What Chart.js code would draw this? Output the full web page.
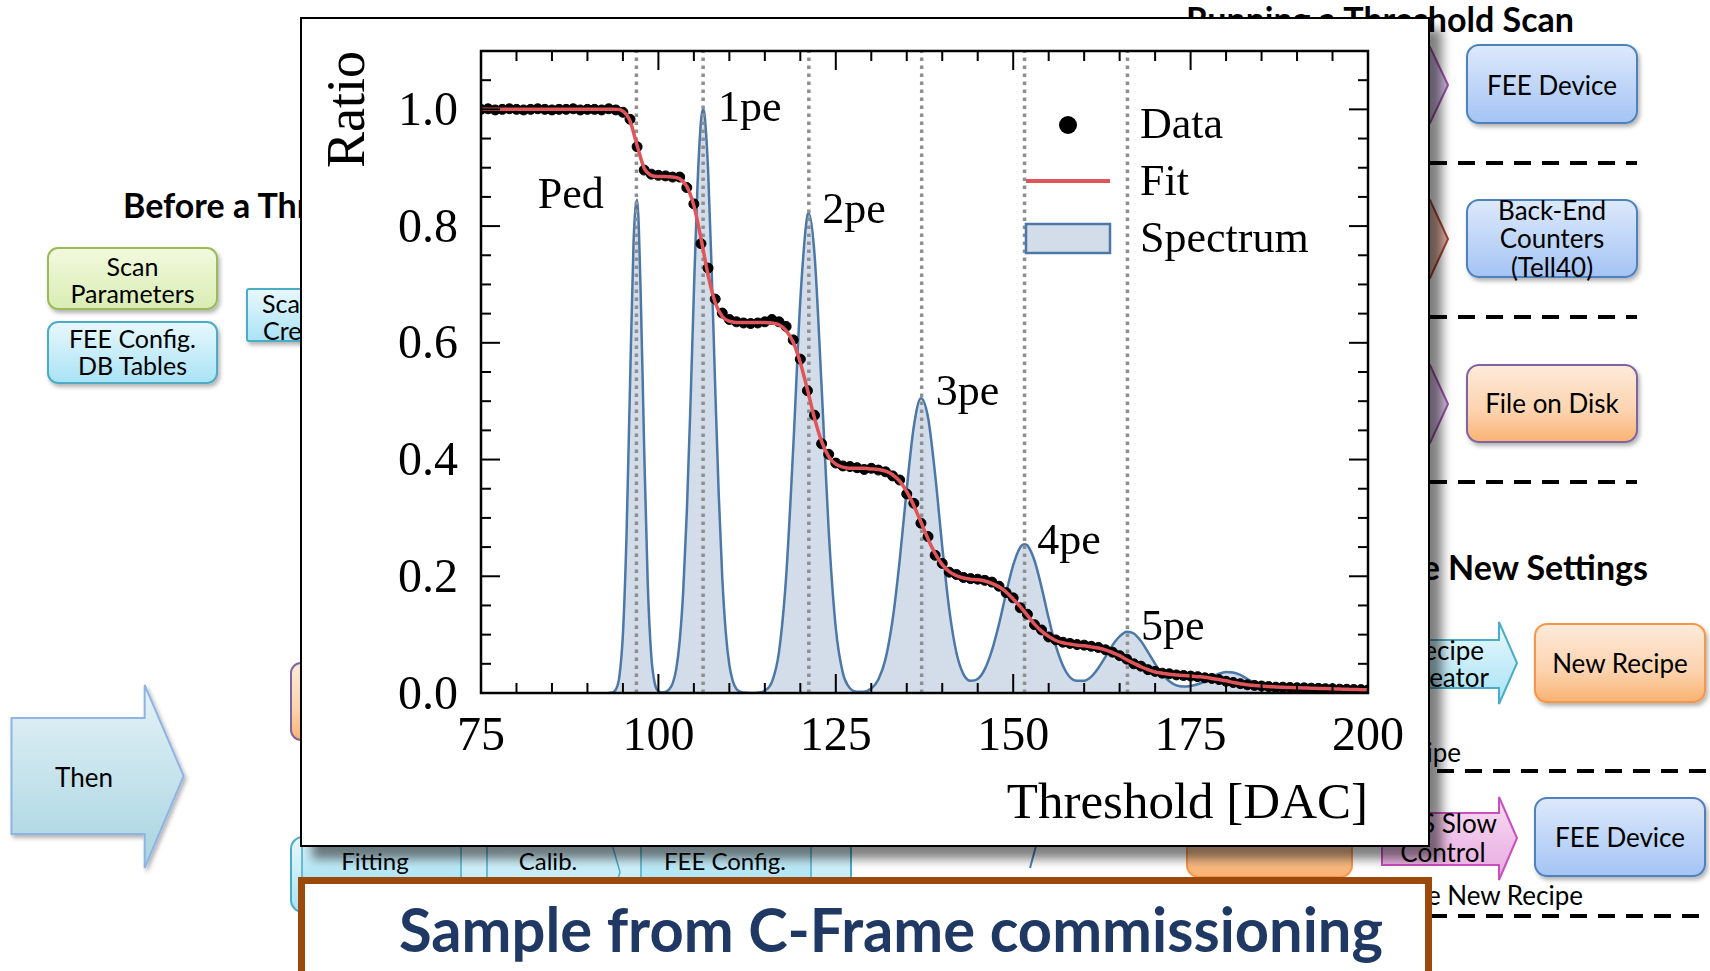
<!DOCTYPE html>
<html>
<head>
<meta charset="utf-8">
<script src="https://cdn.jsdelivr.net/npm/chart.js@4.4.0/dist/chart.umd.min.js"></script>
<style>
  html,body{margin:0;padding:0;background:#fff;}
  body{width:1710px;height:971px;position:relative;overflow:hidden;}
  #bg{position:absolute;left:0;top:0;}
  #chartBox{position:absolute;left:300px;top:17px;width:1126px;height:826px;border:2px solid #000;background:#fff;
    box-shadow:12px 12px 10px rgba(0,0,0,0.5);}
  #chartBox canvas{position:absolute;left:0;top:0;}
</style>
</head>
<body>
<svg id="bg" width="1710" height="971" xmlns="http://www.w3.org/2000/svg">
  <defs>
    <linearGradient id="gBlue" x1="0" y1="0" x2="0" y2="1"><stop offset="0" stop-color="#dde9fc"/><stop offset="1" stop-color="#a4c4f4"/></linearGradient>
    <linearGradient id="gOrange" x1="0" y1="0" x2="0" y2="1"><stop offset="0" stop-color="#fdeadb"/><stop offset="0.6" stop-color="#fcd3ae"/><stop offset="1" stop-color="#f9b272"/></linearGradient>
    <linearGradient id="gGreen" x1="0" y1="0" x2="0" y2="1"><stop offset="0" stop-color="#f2f9de"/><stop offset="1" stop-color="#d9edb3"/></linearGradient>
    <linearGradient id="gCyan" x1="0" y1="0" x2="0" y2="1"><stop offset="0" stop-color="#e8f8fd"/><stop offset="1" stop-color="#a9e3f5"/></linearGradient>
    <linearGradient id="gThen" x1="0" y1="0" x2="0" y2="1"><stop offset="0" stop-color="#e6f2f7"/><stop offset="1" stop-color="#a6d4e1"/></linearGradient>
    <linearGradient id="gPink" x1="0" y1="0" x2="0" y2="1"><stop offset="0" stop-color="#f8dcf4"/><stop offset="1" stop-color="#e8a9df"/></linearGradient>
    <filter id="sh" x="-10%" y="-10%" width="130%" height="150%"><feDropShadow dx="2" dy="3" stdDeviation="2" flood-color="#000" flood-opacity="0.3"/></filter>
  </defs>
  <g font-family="Lato, 'Open Sans', sans-serif">
    <!-- left column -->
    <text x="123" y="218" font-size="34" font-weight="700" fill="#000">Before a Threshold Scan</text>
    <rect x="48" y="248" width="169" height="61" rx="10" fill="url(#gGreen)" stroke="#9bbb59" stroke-width="2" filter="url(#sh)"/>
    <text x="132.5" y="276" font-size="25" text-anchor="middle" fill="#000">Scan</text>
    <text x="132.5" y="303" font-size="25" text-anchor="middle" fill="#000">Parameters</text>
    <rect x="48" y="322" width="169" height="61" rx="10" fill="url(#gCyan)" stroke="#4bacc6" stroke-width="2" filter="url(#sh)"/>
    <text x="132.5" y="348" font-size="25" text-anchor="middle" fill="#000">FEE Config.</text>
    <text x="132.5" y="375" font-size="25" text-anchor="middle" fill="#000">DB Tables</text>
    <rect x="247" y="289" width="150" height="52" rx="2" fill="url(#gCyan)" stroke="#4bacc6" stroke-width="2" filter="url(#sh)"/>
    <text x="262" y="313" font-size="25" fill="#000">Scan</text>
    <text x="263" y="340" font-size="25" fill="#000">Creator</text>
    <polygon points="11.5,718 144.7,718 144.7,685 183.7,776 144.7,868 144.7,834 11.5,834" fill="url(#gThen)" stroke="#8eb4e3" stroke-width="2" filter="url(#sh)"/>
    <text x="84" y="787" font-size="26" text-anchor="middle" fill="#000">Then</text>
    <rect x="291" y="663" width="120" height="77" rx="10" fill="url(#gOrange)" stroke="#8064a2" stroke-width="2"/>
    <!-- bottom container -->
    <rect x="291" y="837" width="560" height="75" rx="12" fill="url(#gCyan)" stroke="#4bacc6" stroke-width="2"/>
    <rect x="302" y="825" width="159" height="60" fill="url(#gCyan)" stroke="#4bacc6" stroke-width="1.5"/>
    <polygon points="487,820 605,820 620,872 605,924 487,924" fill="url(#gCyan)" stroke="#4bacc6" stroke-width="1.5"/>
    <rect x="641" y="825" width="170" height="60" fill="url(#gCyan)" stroke="#4bacc6" stroke-width="1.5"/>
    <text x="375" y="870" font-size="24" text-anchor="middle" fill="#000">Fitting</text>
    <text x="548" y="870" font-size="24" text-anchor="middle" fill="#000">Calib.</text>
    <text x="725" y="870" font-size="24" text-anchor="middle" fill="#000">FEE Config.</text>
    <path d="M1036,846 L1030,868" stroke="#4f81bd" stroke-width="2" fill="none"/>
    <rect x="1187" y="760" width="165" height="117" rx="12" fill="url(#gOrange)" stroke="#f79646" stroke-width="2"/>

    <!-- right column -->
    <text x="1574" y="32" font-size="34" font-weight="700" text-anchor="end" fill="#000">Running a Threshold Scan</text>
    <polygon points="1380,47 1430,47 1448,85 1430,123 1380,123" fill="#cbb9da" stroke="#9c52a8" stroke-width="2"/>
    <polygon points="1380,200 1430,200 1448,239 1430,278 1380,278" fill="#dcaea3" stroke="#a3462f" stroke-width="2"/>
    <polygon points="1380,365 1430,365 1448,404 1430,443 1380,443" fill="#d4bde0" stroke="#9c52a8" stroke-width="2"/>
    <rect x="1467" y="45" width="170" height="78" rx="12" fill="url(#gBlue)" stroke="#4f81bd" stroke-width="2" filter="url(#sh)"/>
    <text x="1552" y="95" font-size="26" text-anchor="middle" fill="#000">FEE Device</text>
    <line x1="1430" y1="163" x2="1637" y2="163" stroke="#000" stroke-width="4" stroke-dasharray="17 11"/>
    <rect x="1467" y="200" width="170" height="77" rx="12" fill="url(#gBlue)" stroke="#4f81bd" stroke-width="2" filter="url(#sh)"/>
    <text x="1552" y="220" font-size="26" text-anchor="middle" fill="#000">Back-End</text>
    <text x="1552" y="248" font-size="26" text-anchor="middle" fill="#000">Counters</text>
    <text x="1552" y="277" font-size="26" text-anchor="middle" fill="#000">(Tell40)</text>
    <line x1="1430" y1="317" x2="1637" y2="317" stroke="#000" stroke-width="4" stroke-dasharray="17 11"/>
    <rect x="1467" y="365" width="170" height="77" rx="12" fill="url(#gOrange)" stroke="#8064a2" stroke-width="2" filter="url(#sh)"/>
    <text x="1552" y="413" font-size="26" text-anchor="middle" fill="#000">File on Disk</text>
    <line x1="1430" y1="482" x2="1637" y2="482" stroke="#000" stroke-width="4" stroke-dasharray="17 11"/>

    <text x="1648" y="580" font-size="34" font-weight="700" text-anchor="end" fill="#000">Applying the New Settings</text>
    <polygon points="1300,640 1499,640 1499,622 1517,663 1499,704 1499,688 1300,688" fill="url(#gCyan)" stroke="#4bacc6" stroke-width="2"/>
    <text x="1446" y="660" font-size="26" text-anchor="middle" fill="#000">Recipe</text>
    <text x="1446" y="687" font-size="26" text-anchor="middle" fill="#000">Creator</text>
    <rect x="1535" y="624" width="170" height="78" rx="12" fill="url(#gOrange)" stroke="#f79646" stroke-width="2" filter="url(#sh)"/>
    <text x="1620" y="673" font-size="26" text-anchor="middle" fill="#000">New Recipe</text>
    <text x="1461" y="762" font-size="26" text-anchor="end" fill="#000">Recipe</text>
    <line x1="1437" y1="771" x2="1710" y2="771" stroke="#000" stroke-width="4" stroke-dasharray="17 11"/>
    <polygon points="1382,813 1499,813 1499,797 1517,838 1499,880 1499,865 1382,865" fill="url(#gPink)" stroke="#c94fbe" stroke-width="2"/>
    <text x="1443" y="833" font-size="26" text-anchor="middle" fill="#000">ECS Slow</text>
    <text x="1443" y="862" font-size="26" text-anchor="middle" fill="#000">Control</text>
    <rect x="1535" y="798" width="170" height="78" rx="12" fill="url(#gBlue)" stroke="#4f81bd" stroke-width="2" filter="url(#sh)"/>
    <text x="1620" y="847" font-size="26" text-anchor="middle" fill="#000">FEE Device</text>
    <text x="1583" y="905" font-size="26" text-anchor="end" fill="#000">Loading the New Recipe</text>
    <line x1="1430" y1="916" x2="1710" y2="916" stroke="#000" stroke-width="4" stroke-dasharray="17 11"/>

    <!-- caption box -->
    <rect x="301.5" y="880.5" width="1127" height="100" fill="#fff" stroke="#9c4a0c" stroke-width="7"/>
    <text x="891" y="952" font-size="62" font-weight="700" text-anchor="middle" fill="#1f3864" textLength="984" lengthAdjust="spacingAndGlyphs">Sample from C-Frame commissioning</text>
  </g>
</svg>

<div id="chartBox"><canvas id="c" width="1126" height="826"></canvas></div>

<script>
// ---------------- data ----------------
const thresholdDAC = [75,76,77,78,79,80,81,82,83,84,85,86,87,88,89,90,91,92,93,94,95,96,97,98,99,100,
  101,102,103,104,105,106,107,108,109,110,111,112,113,114,115,116,117,118,119,120,121,122,123,124,125,
  126,127,128,129,130,131,132,133,134,135,136,137,138,139,140,141,142,143,144,145,146,147,148,149,150,
  151,152,153,154,155,156,157,158,159,160,161,162,163,164,165,166,167,168,169,170,171,172,173,174,175,
  176,177,178,179,180,181,182,183,184,185,186,187,188,189,190,191,192,193,194,195,196,197,198,199,200];

const dataRatio = [1.000,1.001,0.999,1.000,1.001,1.000,0.999,1.000,1.001,1.000,0.999,1.000,1.000,1.001,0.999,1.000,1.000,0.999,1.001,
  0.999,0.995,0.983,0.936,0.896,0.889,0.887,0.886,0.884,0.884,0.866,0.838,0.770,0.728,0.675,0.651,0.640,0.636,0.634,0.633,0.634,
  0.636,0.640,0.636,0.628,0.605,0.572,0.518,0.476,0.427,0.409,0.394,0.389,0.388,0.386,0.383,0.385,0.382,0.379,0.372,0.365,
  0.341,0.325,0.291,0.268,0.236,0.222,0.207,0.203,0.198,0.196,0.195,0.193,0.190,0.183,0.172,0.163,0.146,0.135,0.117,0.108,
  0.096,0.091,0.087,0.085,0.083,0.082,0.080,0.078,0.074,0.070,0.064,0.058,0.050,0.046,0.040,0.037,0.034,0.033,0.031,0.030,
  0.029,0.028,0.026,0.025,0.023,0.020,0.018,0.016,0.014,0.013,0.012,0.011,0.010,0.010,0.0095,0.0090,0.0088,0.0083,0.0080,0.0074,
  0.0072,0.0066,0.0064,0.0060,0.0058,0.0053];

const fitRatio = [1.000,1.000,1.000,1.000,1.000,1.000,1.000,1.000,1.000,1.000,1.000,1.000,1.000,1.000,1.000,1.000,1.000,1.000,1.000,1.000,
  0.997,0.980,0.938,0.899,0.887,0.885,0.885,0.884,0.881,0.868,0.835,0.779,0.716,0.669,0.645,0.637,0.635,0.635,0.635,0.635,
  0.635,0.634,0.631,0.621,0.601,0.566,0.520,0.471,0.431,0.405,0.392,0.387,0.385,0.385,0.385,0.384,0.383,0.380,0.374,0.363,
  0.345,0.321,0.293,0.264,0.239,0.220,0.208,0.201,0.197,0.195,0.194,0.192,0.188,0.182,0.173,0.161,0.148,0.133,0.118,0.106,
  0.097,0.090,0.086,0.084,0.082,0.081,0.079,0.077,0.074,0.069,0.064,0.057,0.051,0.045,0.040,0.036,0.034,0.032,0.031,0.030,
  0.029,0.028,0.027,0.025,0.023,0.021,0.018,0.016,0.014,0.013,0.012,0.011,0.0104,0.0099,0.0095,0.0091,0.0087,0.0083,0.0079,0.0075,
  0.0071,0.0067,0.0063,0.0060,0.0057,0.0054];

const spectrumDAC = [93,93.5,94,94.5,95,95.5,96,96.5,97,97.5,98,98.5,99,99.5,100,100.5,101,101.5,102,102.5,
  103,103.5,104,104.5,105,105.5,106,106.3,106.5,107,107.5,108,108.5,109,109.5,110,110.5,111,111.5,112,
  113,114,115,116,117,118,119,120,121,121.2,122,123,124,125,126,127,128,129,130,131,132,133,134,135,136,137,
  138,139,140,141,142,143,144,145,146,147,148,149,150,151,151.6,152,153,154,155,156,157,158,159,160,
  161,162,163,164,165,166,167,168,169,170,171,172,173,174,175,176,177,178,179,180,181,182,183,184,185,
  186,187,188,189,190];

const spectrumValue = [0.0001,0.001,0.006,0.028,0.101,0.267,0.527,0.773,0.845,0.687,0.416,0.187,0.063,0.016,0.003,0.001,0.002,0.006,0.016,0.040,
  0.089,0.175,0.309,0.487,0.687,0.867,0.980,1.000,0.991,0.897,0.726,0.526,0.341,0.198,0.103,0.048,0.020,0.007,0.0025,0.0007,
  0.0001,0.0006,0.004,0.019,0.071,0.199,0.420,0.673,0.818,0.822,0.752,0.525,0.278,0.111,0.034,0.008,0.002,0.0023,0.0076,0.023,0.058,0.125,0.227,0.350,0.457,0.505,
  0.472,0.374,0.251,0.142,0.069,0.032,0.021,0.024,0.041,0.073,0.118,0.171,0.219,0.250,0.255,0.253,0.227,0.181,0.128,0.081,0.047,0.027,0.021,0.021,
  0.028,0.043,0.062,0.082,0.097,0.105,0.102,0.089,0.070,0.050,0.032,0.020,0.013,0.011,0.012,0.015,0.020,0.027,0.033,0.036,0.035,0.031,0.024,0.017,0.011,
  0.006,0.003,0.0013,0.0005,0.0002];

const peakDAC = [96.9, 106.3, 121.2, 137.1, 151.6, 166.1];
const peakLabels = ['Ped','1pe','2pe','3pe','4pe','5pe'];
const peakLabelDAC = [83.0, 108.4, 123.1, 139.1, 153.4, 168.0];
const peakLabelRatio = [0.831, 0.980, 0.806, 0.493, 0.239, 0.091];

const legendLabels = ['Data','Fit','Spectrum'];
const xMajorTicks = [75,100,125,150,175,200];
const xMinorTicks = [80,85,90,95,105,110,115,120,130,135,140,145,155,160,165,170,180,185,190,195];
const yMajorTicks = [0,0.2,0.4,0.6,0.8,1.0];
const yMinorTicks = [0.05,0.1,0.15,0.25,0.3,0.35,0.45,0.5,0.55,0.65,0.7,0.75,0.85,0.9,0.95,1.05];
const xRange = [75, 200];
const yRange = [0, 1.1];

// ---------------- styles ----------------
const SERIF = "'Liberation Serif', 'Times New Roman', serif";
const RED = '#e0555a';
const BLUE = '#4c78a8';
const BLUE_FILL = 'rgba(76,120,168,0.25)';
const GREY = '#8f8f8f';

const frame = {
  id: 'frame',
  afterDatasetsDraw(chart) {
    const {ctx, chartArea: a, scales: {x, y}} = chart;
    ctx.save();
    ctx.strokeStyle = '#000'; ctx.lineCap = 'butt';
    const seg = (x1, y1, x2, y2) => { ctx.beginPath(); ctx.moveTo(x1, y1); ctx.lineTo(x2, y2); ctx.stroke(); };
    const MAJ = 19, MIN = 10;
    ctx.lineWidth = 2;
    xMajorTicks.forEach(v => { const p = x.getPixelForValue(v); seg(p, a.bottom, p, a.bottom - MAJ); seg(p, a.top, p, a.top + MAJ); });
    xMinorTicks.forEach(v => { const p = x.getPixelForValue(v); seg(p, a.bottom, p, a.bottom - MIN); seg(p, a.top, p, a.top + MIN); });
    yMajorTicks.forEach(v => { const p = y.getPixelForValue(v); seg(a.left, p, a.left + MAJ, p); seg(a.right, p, a.right - MAJ, p); });
    yMinorTicks.forEach(v => { const p = y.getPixelForValue(v); seg(a.left, p, a.left + MIN, p); seg(a.right, p, a.right - MIN, p); });
    ctx.lineWidth = 2.5;
    ctx.strokeRect(a.left, a.top, a.right - a.left, a.bottom - a.top);

    // peak annotations
    ctx.fillStyle = '#000';
    ctx.font = `44px ${SERIF}`;
    ctx.textAlign = 'left'; ctx.textBaseline = 'alphabetic';
    peakLabels.forEach((t, i) => ctx.fillText(t, x.getPixelForValue(peakLabelDAC[i]), y.getPixelForValue(peakLabelRatio[i])));

    // legend
    const hx = a.right - 342, hw = 84, tx = a.right - 228;
    ctx.beginPath(); ctx.arc(hx + hw / 2, a.top + 74, 9, 0, Math.PI * 2); ctx.fillStyle = '#000'; ctx.fill();
    ctx.strokeStyle = RED; ctx.lineWidth = 4; seg(hx, a.top + 130, hx + hw, a.top + 130);
    ctx.fillStyle = BLUE_FILL; ctx.fillRect(hx, a.top + 173, hw, 29);
    ctx.strokeStyle = BLUE; ctx.lineWidth = 2.5; ctx.strokeRect(hx, a.top + 173, hw, 29);
    ctx.fillStyle = '#000';
    ctx.fillText(legendLabels[0], tx, a.top + 87);
    ctx.fillText(legendLabels[1], tx, a.top + 144);
    ctx.fillText(legendLabels[2], tx, a.top + 201);
    ctx.restore();
  }
};

const datasets = [
  { label: 'Fit', data: thresholdDAC.map((v, i) => ({x: v, y: fitRatio[i]})), borderColor: RED, borderWidth: 3.5,
    pointRadius: 0, cubicInterpolationMode: 'monotone', fill: false, order: 1 },
  { label: 'Data', data: thresholdDAC.map((v, i) => ({x: v, y: dataRatio[i]})), showLine: false,
    pointRadius: 5, pointBackgroundColor: '#000', pointBorderColor: '#000', pointBorderWidth: 1, order: 2 },
  ...peakDAC.map(p => ({ label: 'peak', data: [{x: p, y: yRange[0]}, {x: p, y: yRange[1]}], borderColor: GREY,
    borderWidth: 3.5, borderDash: [3.5, 4.5], pointRadius: 0, fill: false, order: 3 })),
  { label: 'Spectrum', data: spectrumDAC.map((v, i) => ({x: v, y: spectrumValue[i]})), borderColor: BLUE, borderWidth: 2.5,
    backgroundColor: BLUE_FILL, fill: 'origin', pointRadius: 0, cubicInterpolationMode: 'monotone', order: 4 }
];

new Chart(document.getElementById('c').getContext('2d'), {
  type: 'line',
  data: { datasets },
  options: {
    responsive: false, animation: false,
    layout: { padding: { left: 0, top: 32, right: 60, bottom: 0 } },
    plugins: { legend: { display: false }, tooltip: { enabled: false } },
    scales: {
      x: {
        type: 'linear', min: xRange[0], max: xRange[1],
        afterBuildTicks: s => { s.ticks = xMajorTicks.map(v => ({value: v})); },
        afterFit: s => { s.height = 152; s.paddingLeft = 0; s.paddingRight = 0; },
        grid: { display: false, drawTicks: false }, border: { display: false },
        ticks: { padding: 16, color: '#000', font: { family: SERIF, size: 48 }, maxRotation: 0, autoSkip: false,
                 callback: v => String(v) },
        title: { display: true, text: 'Threshold [DAC]', align: 'end', color: '#000',
                 font: { family: SERIF, size: 51 }, padding: { top: 0, bottom: 10 } }
      },
      y: {
        type: 'linear', min: yRange[0], max: yRange[1],
        afterBuildTicks: s => { s.ticks = yMajorTicks.map(v => ({value: v})); },
        afterFit: s => { s.width = 179; s.paddingTop = 0; s.paddingBottom = 0; },
        grid: { display: false, drawTicks: false }, border: { display: false },
        ticks: { padding: 23, labelOffset: 3, color: '#000', font: { family: SERIF, size: 48 }, autoSkip: false,
                 callback: v => Number(v).toFixed(1) },
        title: { display: true, text: 'Ratio', align: 'end', color: '#000',
                 font: { family: SERIF, size: 54 }, padding: { top: 15, bottom: 0 } }
      }
    }
  },
  plugins: [frame]
});
</script>
</body>
</html>
